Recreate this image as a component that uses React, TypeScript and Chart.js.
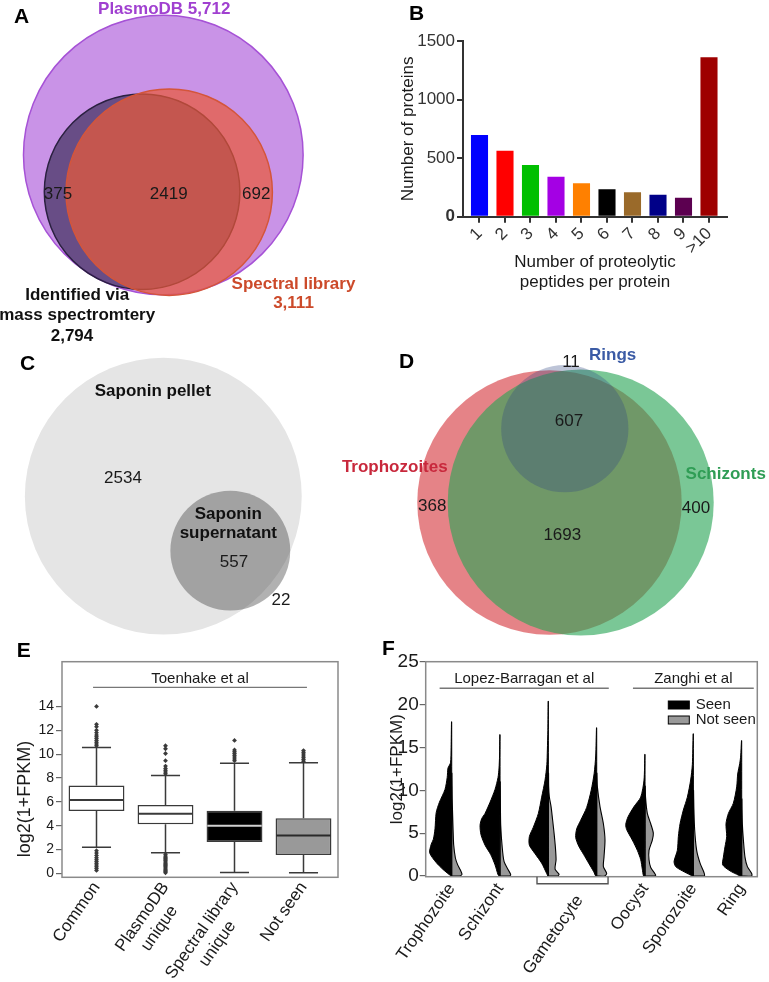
import React, { useEffect, useRef } from 'react';
import { Chart, registerables } from 'chart.js';

Chart.register(...registerables);

const FONT = '"Liberation Sans", Arial, Helvetica, sans-serif';
Chart.defaults.font.family = FONT;
Chart.defaults.color = '#222';

// ======================= DATA =======================
// Panel A
const setNamesA = ['PlasmoDB', 'Identified via mass spectromtery', 'Spectral library'];
const setSizesA = [5712, 2794, 3111];
const regionCountsA = [375, 2419, 692]; // MS only, MS ∩ spectral, spectral only

// Panel B
const peptideBins = ['1', '2', '3', '4', '5', '6', '7', '8', '9', '>10'];
const proteinCounts = [697, 564, 441, 342, 285, 234, 208, 188, 162, 1361];
const proteinTicks = [0, 500, 1000, 1500];

// Panel C
const setNamesC = ['Saponin pellet', 'Saponin supernatant'];
const setSizesC = [3091, 579];
const regionCountsC = [2534, 557, 22];

// Panel D
const setNamesD = ['Trophozoites', 'Schizonts', 'Rings'];
const setSizesD = [2668, 2700, 618];
const regionCountsD = [368, 1693, 400, 607, 11]; // troph only, troph∩schiz, schiz only, all three, rings only

// Panel E
const boxGroups = ['Common', 'PlasmoDB unique', 'Spectral library unique', 'Not seen'];
const boxTickLabels: (string | string[])[] = ['Common', ['PlasmoDB', 'unique   '], ['Spectral library', 'unique       '], 'Not seen'];
const whiskerLowE = [2.18, 1.73, 0.08, 0.05];
const q1E = [5.23, 4.12, 2.63, 1.54];
const medianE = [6.16, 5.0, 4.0, 3.18];
const q3E = [7.36, 5.74, 5.26, 4.62];
const whiskerHighE = [10.55, 8.2, 9.24, 9.28];
const outliersCommon = [0.25, 0.4, 0.55, 0.7, 0.85, 1.0, 1.15, 1.3, 1.5, 1.7, 1.9, 10.7, 10.85, 11.0, 11.15, 11.3, 11.45, 11.6, 11.8, 12.0, 12.3, 12.5, 14.0];
const outliersPlasmoDB = [0.05, 0.15, 0.25, 0.35, 0.45, 0.55, 0.65, 0.75, 0.85, 0.95, 1.05, 1.15, 1.25, 1.35, 1.45, 1.6, 8.35, 8.5, 8.65, 8.8, 9.0, 9.45, 10.05, 10.45, 10.7];
const outliersSpectral = [9.45, 9.6, 9.75, 9.9, 10.05, 10.2, 10.35, 11.15];
const outliersNotSeen = [9.4, 9.55, 9.7, 9.85, 10.0, 10.15, 10.3];
const outliersE = [outliersCommon, outliersPlasmoDB, outliersSpectral, outliersNotSeen];
const yTicksE = [0, 2, 4, 6, 8, 10, 12, 14];
const studyE = 'Toenhake et al';

// Panel F  (pairs: [log2(1+FPKM), density])
const stagesF = ['Trophozoite', 'Schizont', 'Gametocyte', 'Gametocyte', 'Oocyst', 'Sporozoite', 'Ring'];
const studyOfStageF = ['Lopez-Barragan et al', 'Lopez-Barragan et al', 'Lopez-Barragan et al', 'Lopez-Barragan et al', 'Zanghi et al', 'Zanghi et al', 'Zanghi et al'];
const trophSeen = [[0, 0.5], [0.15, 2.3], [0.8, 9], [1.6, 15.7], [2.7, 22], [3.7, 20.5], [4.3, 18.3], [5.5, 16.7], [7.4, 15.5], [8.6, 12.3], [10.1, 6.7], [11.5, 4.5], [12.6, 3.7], [13.2, 1.2], [15, 0.6], [18, 0.2]];
const trophNotSeen = [[0, 8], [0.2, 10.3], [0.7, 8.7], [1.3, 6], [2.1, 3.7], [3.6, 2], [5, 1.5], [6.9, 1], [9, 0.5], [12, 0.2]];
const schizSeen = [[0, 1], [0.15, 2], [1.3, 5], [2.5, 9.3], [3.6, 15], [4.8, 19], [5.9, 20], [6.7, 18.3], [7.3, 15], [8.6, 10], [10.1, 5], [11.5, 2], [12.6, 1], [14, 0.5], [16.5, 0.2]];
const schizNotSeen = [[0, 9], [0.15, 10.7], [0.7, 8.3], [1.7, 4], [3.6, 2], [5.9, 0.7], [8, 0.4], [11, 0.2]];
const gamLBSeen = [[0, 0.5], [0.3, 1.7], [1.5, 6.7], [2.6, 13.3], [3.6, 19], [4.6, 19], [5.7, 15], [7.3, 10], [9.2, 6.7], [11.2, 3.3], [13, 1.5], [14.7, 1], [17, 0.5], [20.4, 0.2]];
const gamLBNotSeen = [[0, 9], [0.2, 10.7], [0.8, 6.7], [1.9, 7.7], [3.4, 7], [5, 5.7], [6.5, 4.3], [8.1, 2.7], [9.2, 1], [10.5, 0.3], [12, 0.2]];
const gam2Seen = [[0, 1], [0.5, 3], [1.5, 8], [2.5, 13], [3.5, 18], [4.5, 21], [5.5, 20], [6.5, 16], [8, 10], [10, 5.5], [12, 2.5], [14, 1], [17.3, 0.2]];
const gam2NotSeen = [[0, 8], [0.3, 10], [1.1, 6.7], [2.2, 7.3], [4.2, 8.3], [6.1, 6.7], [8.1, 3.3], [10.4, 0.7], [12, 0.2]];
const oocystSeen = [[0, 1.5], [0.8, 2.7], [1.9, 4.3], [3, 7.7], [4.2, 12.7], [5.4, 18.3], [6, 19.3], [6.9, 17], [8.1, 11], [9.2, 4.3], [11.2, 1], [14.2, 0.2]];
const oocystNotSeen = [[0, 9], [0.1, 10.7], [1, 5.7], [1.9, 4], [3, 4], [4.2, 7.3], [5, 8.3], [6.1, 5.7], [7.3, 2.3], [9.2, 0.5], [10.5, 0.2]];
const sporoSeen = [[0, 1], [0.1, 2.7], [0.6, 11], [1.1, 17.7], [1.7, 19.3], [3, 16], [4.6, 15], [6.1, 13.3], [7.7, 10], [9.2, 6], [11.2, 2.7], [13, 1], [16.6, 0.2]];
const sporoNotSeen = [[0, 10], [0.1, 11.3], [0.6, 10], [1.5, 6.7], [3, 3.3], [5.4, 1.3], [8, 0.5], [10, 0.2]];
const ringSeen = [[0, 2], [0.1, 3.3], [0.6, 11.7], [1.3, 19], [2.2, 18.3], [3.4, 16.7], [4.6, 15], [6.1, 15.7], [7.3, 13.3], [8.5, 8.3], [10.4, 5], [11.9, 4], [13.1, 2], [14, 1], [15.8, 0.2]];
const ringNotSeen = [[0, 10], [0.3, 10], [1.1, 5.7], [2.2, 3.3], [4.2, 1.7], [6, 0.7], [8, 0.3], [9, 0.2]];
const seenDensityF = [trophSeen, schizSeen, gamLBSeen, gam2Seen, oocystSeen, sporoSeen, ringSeen];
const notSeenDensityF = [trophNotSeen, schizNotSeen, gamLBNotSeen, gam2NotSeen, oocystNotSeen, sporoNotSeen, ringNotSeen];
const legendF = ['Seen', 'Not seen'];
const yTicksF = [0, 5, 10, 15, 20, 25];

// ======================= STYLE / LAYOUT =======================
const fmt = (n: number) => n.toLocaleString('en-US');
const TEXT = '#1a1a1a';
const BASE = { animation: false as const, responsive: false, devicePixelRatio: 1, events: [] as any[] };
const NO_PLUGINS = { legend: { display: false }, tooltip: { enabled: false } };
const LETTER_FONT = `bold 21px ${FONT}`;
const FRAME = '#8a8a8a';

function text(ctx: any, s: string, x: number, y: number, size: number, color: string, bold = false, align = 'center') {
  ctx.font = `${bold ? 'bold ' : ''}${size}px ${FONT}`;
  ctx.fillStyle = color;
  ctx.textAlign = align;
  ctx.textBaseline = 'alphabetic';
  ctx.fillText(s, x, y);
}
function letter(ctx: any, s: string, x: number, y: number) {
  ctx.font = LETTER_FONT;
  ctx.fillStyle = '#000';
  ctx.textAlign = 'left';
  ctx.textBaseline = 'alphabetic';
  ctx.fillText(s, x, y);
}

// ----- Venn builder (circle radius ∝ sqrt(set size), in scale units) -----
type VennLabel = { lines: string[]; at: number[]; color: string; bold?: boolean; gap?: number };
function makeVenn(cfg: { k: number; centers: number[][]; sizes: number[]; fills: string[]; strokes: string[]; widths: number[]; labels: VennLabel[]; letter: { s: string; x: number; y: number } }) {
  return (w: number, h: number) => {
    const rad = (c: any) => {
      const sx = c.chart.scales.x;
      return Math.abs(sx.getPixelForValue(Math.sqrt(cfg.sizes[c.dataIndex])) - sx.getPixelForValue(0));
    };
    return {
      type: 'scatter',
      data: {
        datasets: [{
          data: cfg.centers.map(([x, y]) => ({ x, y })),
          pointBackgroundColor: cfg.fills,
          pointBorderColor: cfg.strokes,
          pointBorderWidth: cfg.widths,
          pointRadius: rad,
          pointHoverRadius: rad,
          clip: false,
        }],
      },
      options: {
        ...BASE,
        layout: { padding: 0 },
        plugins: NO_PLUGINS,
        scales: {
          x: { type: 'linear', display: false, min: 0, max: w / cfg.k },
          y: { type: 'linear', display: false, min: 0, max: h / cfg.k, reverse: true },
        },
      },
      plugins: [{
        id: 'vennText',
        afterDatasetsDraw(chart: any) {
          const { ctx, scales: { x, y } } = chart;
          ctx.save();
          for (const l of cfg.labels) {
            l.lines.forEach((ln, i) => {
              text(ctx, ln, x.getPixelForValue(l.at[0]), y.getPixelForValue(l.at[1] + i * (l.gap || 0)), 17, l.color, !!l.bold);
            });
          }
          letter(ctx, cfg.letter.s, cfg.letter.x, cfg.letter.y);
          ctx.restore();
        },
      }],
    };
  };
}

const makeA = makeVenn({
  k: 1.85,
  centers: [[88.27, 83.78], [76.81, 103.62], [91.46, 103.89]],
  sizes: setSizesA,
  fills: ['rgba(165,75,215,0.6)', 'rgba(25,20,55,0.55)', 'rgba(235,90,55,0.7)'],
  strokes: ['#a652d6', '#2a2040', '#d4553a'],
  widths: [1.5, 1.5, 1.5],
  labels: [
    { lines: [`${setNamesA[0]} ${fmt(setSizesA[0])}`], at: [88.76, 7.57], color: '#a040d0', bold: true },
    { lines: [String(regionCountsA[0])], at: [31.35, 107.73], color: TEXT },
    { lines: [String(regionCountsA[1])], at: [91.19, 107.73], color: TEXT },
    { lines: [String(regionCountsA[2])], at: [138.49, 107.73], color: TEXT },
    { lines: [setNamesA[2], fmt(setSizesA[2])], at: [158.65, 156.38], color: '#cc4a2a', bold: true, gap: 10.3 },
    { lines: ['Identified via', 'mass spectromtery'], at: [41.73, 162.16], color: '#111', bold: true, gap: 10.98 },
    { lines: [fmt(setSizesA[1])], at: [38.92, 184.16], color: '#111', bold: true },
  ],
  letter: { s: 'A', x: 14, y: 22.7 },
});

const makeC = makeVenn({
  k: 2.49,
  centers: [[65.58, 58.71], [92.49, 80.6]],
  sizes: setSizesC,
  fills: ['#e5e5e5', 'rgba(70,70,70,0.42)'],
  strokes: ['rgba(0,0,0,0)', 'rgba(0,0,0,0)'],
  widths: [0, 0],
  labels: [
    { lines: [setNamesC[0]], at: [61.37, 18.47], color: '#111', bold: true },
    { lines: [String(regionCountsC[0])], at: [49.4, 53.29], color: TEXT },
    { lines: ['Saponin', 'supernatant'], at: [91.69, 67.99], color: '#111', bold: true, gap: 7.63 },
    { lines: [String(regionCountsC[1])], at: [93.98, 87.27], color: TEXT },
    { lines: [String(regionCountsC[2])], at: [112.85, 102.41], color: TEXT },
  ],
  letter: { s: 'C', x: 20, y: 20 },
});

const makeD = makeVenn({
  k: 2.56,
  centers: [[85.74, 71.29], [97.93, 71.29], [91.72, 42.46]],
  sizes: setSizesD,
  fills: ['rgba(215,65,70,0.65)', 'rgba(40,165,85,0.62)', 'rgba(50,70,130,0.32)'],
  strokes: ['rgba(0,0,0,0)', 'rgba(0,0,0,0)', 'rgba(0,0,0,0)'],
  widths: [0, 0, 0],
  labels: [
    { lines: [setNamesD[2]], at: [110.43, 15.63], color: '#3b5ba5', bold: true },
    { lines: [String(regionCountsD[4])], at: [94.14, 18.24], color: TEXT },
    { lines: [String(regionCountsD[3])], at: [93.36, 41.41], color: TEXT },
    { lines: [setNamesD[0]], at: [25.31, 59.26], color: '#c8283c', bold: true },
    { lines: [String(regionCountsD[0])], at: [39.96, 74.49], color: TEXT },
    { lines: [String(regionCountsD[1])], at: [90.74, 85.94], color: TEXT },
    { lines: [setNamesD[1]], at: [154.57, 62.23], color: '#2f9d55', bold: true },
    { lines: [String(regionCountsD[2])], at: [142.97, 75.27], color: TEXT },
  ],
  letter: { s: 'D', x: 69, y: 48.3 },
});

// ----- Panel B -----
const barColorsB = ['#0000ff', '#ff0000', '#00bf00', '#a400e4', '#ff8000', '#000000', '#9a6a2a', '#000088', '#5c0050', '#9e0000'];
const makeB = (w: number, h: number) => ({
  type: 'bar',
  data: {
    datasets: [{
      data: proteinCounts.map((v, i) => ({ x: i + 1, y: v })),
      backgroundColor: barColorsB,
      borderWidth: 0,
      barPercentage: 0.67,
      categoryPercentage: 1,
    }],
  },
  options: {
    ...BASE,
    layout: { padding: { left: 0, top: 41, right: 42, bottom: 0 } },
    plugins: NO_PLUGINS,
    scales: {
      x: {
        type: 'linear', offset: false, min: 0.353, max: 10.706,
        afterBuildTicks: (s: any) => { s.ticks = peptideBins.map((_, i) => ({ value: i + 1 })); },
        afterFit: (s: any) => { s.height = 103.3; },
        grid: { display: true, drawOnChartArea: false, drawTicks: true, tickLength: 6, offset: false, color: '#333', lineWidth: 2 },
        border: { display: true, color: '#333', width: 2 },
        ticks: { autoSkip: false, minRotation: 45, maxRotation: 45, padding: 1, font: { size: 17 }, color: '#333', callback: (v: number) => peptideBins[v - 1] },
        title: { display: true, text: ['Number of proteolytic', 'peptides per protein'], font: { size: 17 }, color: TEXT, padding: { top: 0, bottom: 27.4 } },
      },
      y: {
        type: 'linear', min: 0, max: 1500,
        afterBuildTicks: (s: any) => { s.ticks = proteinTicks.map(v => ({ value: v })); },
        afterFit: (s: any) => { s.width = 79; },
        grid: { display: true, drawOnChartArea: false, drawTicks: true, tickLength: 6, color: '#333', lineWidth: 2 },
        border: { display: true, color: '#333', width: 2 },
        ticks: { padding: 2, color: '#333', callback: (v: number) => String(v), font: (c: any) => ({ size: 17, weight: c.tick && c.tick.value === 0 ? 'bold' : 'normal' }) },
        title: { display: true, text: 'Number of proteins', font: { size: 17 }, color: TEXT, padding: { top: 13.8, bottom: 0 } },
      },
    },
  },
  plugins: [{ id: 'letterB', afterDraw(chart: any) { letter(chart.ctx, 'B', 25, 20); } }],
});

// ----- Panel E -----
const boxFillsE = ['#ffffff', '#ffffff', '#000000', '#999999'];
const medianColorsE = ['#3a3a3a', '#3a3a3a', '#d0d0d0', '#2a2a2a'];
const BOX_LINE = '#3a3a3a';
const makeE = (w: number, h: number) => ({
  type: 'bar',
  data: {
    datasets: [
      {
        type: 'scatter',
        data: outliersE.flatMap((arr, i) => arr.map(v => ({ x: i, y: v }))),
        pointStyle: 'rectRot', pointRadius: 2.4, pointBackgroundColor: '#3a3a3a', pointBorderWidth: 0,
      },
      {
        type: 'bar',
        data: q1E.map((q, i) => ({ x: i, y: [q, q3E[i]] })),
        backgroundColor: boxFillsE, borderColor: BOX_LINE, borderWidth: 1.5, borderSkipped: false,
        barPercentage: 0.81, categoryPercentage: 1,
      },
    ],
  },
  options: {
    ...BASE,
    layout: { padding: { left: 0, top: 21.7, right: 46, bottom: 0 } },
    plugins: NO_PLUGINS,
    scales: {
      x: {
        type: 'linear', offset: false, min: -0.5, max: 3.5,
        afterBuildTicks: (s: any) => { s.ticks = boxGroups.map((_, i) => ({ value: i })); },
        afterFit: (s: any) => { s.height = 104.7; },
        grid: { display: false, drawTicks: false, offset: false },
        border: { display: false },
        ticks: { autoSkip: false, minRotation: 55, maxRotation: 55, padding: 1, font: { size: 17 }, color: TEXT, callback: (v: number) => boxTickLabels[v] },
      },
      y: {
        type: 'linear', min: -0.33, max: 17.75,
        afterBuildTicks: (s: any) => { s.ticks = yTicksE.map(v => ({ value: v })); },
        afterFit: (s: any) => { s.width = 62; },
        grid: { display: true, drawOnChartArea: false, drawTicks: true, tickLength: 6, color: '#666', lineWidth: 1.2 },
        border: { display: false },
        ticks: { padding: 2, font: { size: 14 }, color: TEXT },
      },
    },
  },
  plugins: [{
    id: 'boxParts',
    beforeDatasetsDraw(chart: any) {
      const { ctx, scales: { x, y } } = chart;
      const meta = chart.getDatasetMeta(1);
      ctx.save();
      ctx.strokeStyle = BOX_LINE;
      ctx.lineWidth = 1.5;
      boxGroups.forEach((_, i) => {
        const bar = meta.data[i];
        const cx = x.getPixelForValue(i);
        const cap = bar.width * 0.26;
        const yLo = y.getPixelForValue(whiskerLowE[i]);
        const yHi = y.getPixelForValue(whiskerHighE[i]);
        ctx.beginPath();
        ctx.moveTo(cx, yLo); ctx.lineTo(cx, y.getPixelForValue(q1E[i]));
        ctx.moveTo(cx, y.getPixelForValue(q3E[i])); ctx.lineTo(cx, yHi);
        ctx.moveTo(cx - cap, yLo); ctx.lineTo(cx + cap, yLo);
        ctx.moveTo(cx - cap, yHi); ctx.lineTo(cx + cap, yHi);
        ctx.stroke();
      });
      ctx.restore();
    },
    afterDatasetsDraw(chart: any) {
      const { ctx, chartArea: a, scales: { x, y } } = chart;
      const meta = chart.getDatasetMeta(1);
      ctx.save();
      boxGroups.forEach((_, i) => {
        const bar = meta.data[i];
        const cx = x.getPixelForValue(i);
        const half = bar.width / 2 - 0.75;
        const ym = y.getPixelForValue(medianE[i]);
        ctx.strokeStyle = medianColorsE[i];
        ctx.lineWidth = 2;
        ctx.beginPath(); ctx.moveTo(cx - half, ym); ctx.lineTo(cx + half, ym); ctx.stroke();
      });
      // frame
      ctx.strokeStyle = FRAME; ctx.lineWidth = 1.5;
      ctx.strokeRect(a.left, a.top, a.right - a.left, a.bottom - a.top);
      // study annotation
      const x0 = x.getPixelForValue(-0.05), x1 = x.getPixelForValue(boxGroups.length - 1 + 0.05);
      const yl = y.getPixelForValue(15.6);
      ctx.strokeStyle = '#777'; ctx.lineWidth = 1.3;
      ctx.beginPath(); ctx.moveTo(x0, yl); ctx.lineTo(x1, yl); ctx.stroke();
      text(ctx, studyE, (x0 + x1) / 2, y.getPixelForValue(16.0), 15, TEXT);
      // y title
      ctx.save();
      ctx.translate(25, 159);
      ctx.rotate(-Math.PI / 2);
      ctx.font = `18px ${FONT}`; ctx.fillStyle = TEXT; ctx.textAlign = 'center'; ctx.textBaseline = 'middle';
      ctx.fillText('log2(1+FPKM)', 0, 0);
      ctx.restore();
      letter(ctx, 'E', 16.7, 16.7);
      ctx.restore();
    },
  }],
});

// ----- Panel F -----
const DENSITY_UNIT = 1 / 48.33; // x-units per density unit
const BRACKET_LABEL_NUDGE = -0.2; // bracketed label sits lower (extra line) – nudge back left
const xLabelsF = stagesF.filter((s, i) => stagesF.indexOf(s) === i);
const xCountF = xLabelsF.map(s => stagesF.filter(t => t === s).length);
const xTickPosF = xLabelsF.map((s, k) => {
  const idx = stagesF.map((t, i) => (t === s ? i : -1)).filter(i => i >= 0);
  const mean = idx.reduce((p, c) => p + c, 0) / idx.length;
  return xCountF[k] > 1 ? mean + BRACKET_LABEL_NUDGE : mean;
});
const xTickTextF = xLabelsF.map((s, k) => (xCountF[k] > 1 ? ['', s] : s));
const studiesF = studyOfStageF.filter((s, i) => studyOfStageF.indexOf(s) === i);
const studyRangesF = studiesF.map(s => [studyOfStageF.indexOf(s), studyOfStageF.lastIndexOf(s)]);
const bracketF = [stagesF.indexOf('Gametocyte'), stagesF.lastIndexOf('Gametocyte')];

function halfViolin(center: number, pairs: number[][], side: number) {
  const pts = [{ x: center, y: 0 }];
  for (const [v, d] of pairs) pts.push({ x: center + side * d * DENSITY_UNIT, y: v });
  pts.push({ x: center, y: pairs[pairs.length - 1][0] });
  pts.push({ x: center, y: 0 });
  return pts;
}

const makeF = (w: number, h: number) => {
  const datasets: any[] = [];
  stagesF.forEach((_, i) => {
    datasets.push({ data: halfViolin(i, seenDensityF[i], -1), showLine: true, fill: 'shape', backgroundColor: '#000', borderColor: '#000', borderWidth: 1, pointRadius: 0, tension: 0.25 });
    datasets.push({ data: halfViolin(i, notSeenDensityF[i], 1), showLine: true, fill: 'shape', backgroundColor: '#999', borderColor: '#000', borderWidth: 1.1, pointRadius: 0, tension: 0.25 });
  });
  return {
    type: 'scatter',
    data: { datasets },
    options: {
      ...BASE,
      layout: { padding: { left: 0, top: 21.7, right: 11.7, bottom: 0 } },
      plugins: NO_PLUGINS,
      scales: {
        x: {
          type: 'linear', min: -0.538, max: 6.323,
          afterBuildTicks: (s: any) => { s.ticks = xTickPosF.map(v => ({ value: v })); },
          afterFit: (s: any) => { s.height = 105.3; },
          grid: { display: false, drawTicks: false },
          border: { display: false },
          ticks: { autoSkip: false, minRotation: 55, maxRotation: 55, padding: 3, font: { size: 17 }, color: TEXT, callback: (v: number) => xTickTextF[xTickPosF.indexOf(v)] },
        },
        y: {
          type: 'linear', min: -0.08, max: 25,
          afterBuildTicks: (s: any) => { s.ticks = yTicksF.map(v => ({ value: v })); },
          afterFit: (s: any) => { s.width = 49.7; },
          grid: { display: true, drawOnChartArea: false, drawTicks: true, tickLength: 6, color: '#666', lineWidth: 1.2 },
          border: { display: false },
          ticks: { padding: 1, font: { size: 19 }, color: TEXT },
          title: { display: true, text: 'log2(1+FPKM)', font: { size: 17 }, color: TEXT, padding: { top: 10.8, bottom: 0 } },
        },
      },
    },
    plugins: [{
      id: 'violinDecor',
      afterDraw(chart: any) {
        const { ctx, chartArea: a, scales: { x, y } } = chart;
        ctx.save();
        ctx.strokeStyle = FRAME; ctx.lineWidth = 1.5;
        ctx.strokeRect(a.left, a.top, a.right - a.left, a.bottom - a.top);
        // study lines
        studiesF.forEach((name, k) => {
          const [s, e] = studyRangesF[k];
          const x0 = x.getPixelForValue(s - 0.25), x1 = x.getPixelForValue(e + 0.25);
          const yl = y.getPixelForValue(21.9);
          ctx.strokeStyle = '#777'; ctx.lineWidth = 1.3;
          ctx.beginPath(); ctx.moveTo(x0, yl); ctx.lineTo(x1, yl); ctx.stroke();
          text(ctx, name, (x0 + x1) / 2, y.getPixelForValue(22.56), 15, TEXT);
        });
        // legend
        const fills = ['#000', '#999'];
        legendF.forEach((name, k) => {
          const top = a.top + 39.3 + k * 15;
          ctx.fillStyle = fills[k];
          ctx.fillRect(a.right - 89, top, 21, 8);
          ctx.strokeStyle = '#000'; ctx.lineWidth = 1;
          ctx.strokeRect(a.right - 89, top, 21, 8);
          text(ctx, name, a.right - 61.6, top + 7.5, 15, TEXT, false, 'left');
        });
        // gametocyte bracket
        const bx0 = x.getPixelForValue(bracketF[0] - 0.235), bx1 = x.getPixelForValue(bracketF[1] + 0.235);
        const by = a.bottom + 7;
        ctx.strokeStyle = '#555'; ctx.lineWidth = 1.4;
        ctx.beginPath(); ctx.moveTo(bx0, a.bottom); ctx.lineTo(bx0, by); ctx.lineTo(bx1, by); ctx.lineTo(bx1, a.bottom); ctx.stroke();
        letter(ctx, 'F', 6, 15);
        ctx.restore();
      },
    }],
  };
};

// ======================= COMPONENTS =======================
function ChartPanel({ left, top, width, height, make }: { left: number; top: number; width: number; height: number; make: (w: number, h: number) => any }) {
  const ref = useRef<HTMLCanvasElement | null>(null);
  useEffect(() => {
    if (!ref.current) return;
    const chart = new Chart(ref.current, make(width, height));
    return () => chart.destroy();
  }, []);
  return <canvas ref={ref} width={width} height={height} style={{ position: 'absolute', left, top, width, height, display: 'block' }} />;
}

export default function App() {
  useEffect(() => {
    document.body.style.margin = '0';
    document.body.style.background = '#fff';
  }, []);
  return (
    <div style={{ position: 'absolute', left: 0, top: 0, width: 769, height: 982, background: '#fff', overflow: 'hidden' }}>
      <ChartPanel left={0} top={0} width={384} height={350} make={makeA} />
      <ChartPanel left={384} top={0} width={385} height={320} make={makeB} />
      <ChartPanel left={0} top={350} width={384} height={290} make={makeC} />
      <ChartPanel left={330} top={320} width={439} height={320} make={makeD} />
      <ChartPanel left={0} top={640} width={384} height={342} make={makeE} />
      <ChartPanel left={376} top={640} width={393} height={342} make={makeF} />
    </div>
  );
}
